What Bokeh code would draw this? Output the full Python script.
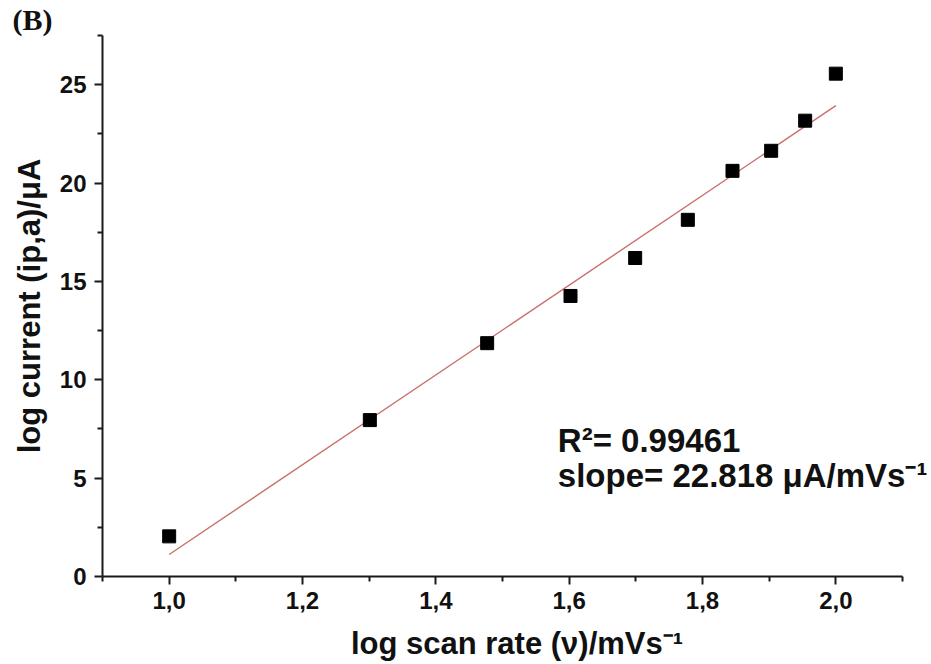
from bokeh.plotting import figure
from bokeh.models import Range1d, FixedTicker, CustomJSTickFormatter, Label, Title
from bokeh.embed import file_html
from bokeh.resources import INLINE

# ---- data ----
log_scan_rate = [1.0, 1.301, 1.477, 1.602, 1.699, 1.778, 1.845, 1.903, 1.954, 2.0]
log_current = [2.04, 7.95, 11.86, 14.26, 16.19, 18.13, 20.62, 21.64, 23.17, 25.56]

fit_slope = 22.818
fit_intercept = -21.70
r_squared = "0.99461"

x_major_ticks = [1.0, 1.2, 1.4, 1.6, 1.8, 2.0]
x_minor_ticks = [0.9, 1.1, 1.3, 1.5, 1.7, 1.9, 2.1]
y_major_ticks = [0, 5, 10, 15, 20, 25]
y_minor_ticks = [2.5, 7.5, 12.5, 17.5, 22.5, 27.5]

fit_x = [min(log_scan_rate), max(log_scan_rate)]
fit_y = [fit_slope * v + fit_intercept for v in fit_x]

# axis drawn from 0.9 to 2.1; the plotting area continues a little to the
# right so that the annotation text (as in the reference) is not cut off
x_axis_start, x_axis_end = 0.9, 2.1
frame_px = 931 - 102
x_view_end = x_axis_start + frame_px * (x_axis_end - x_axis_start) / 800.0

p = figure(width=931, height=664,
           x_range=Range1d(x_axis_start, x_view_end), y_range=Range1d(0, 27.5),
           output_backend="svg", toolbar_location=None,
           min_border_left=102, min_border_right=0,
           min_border_top=35, min_border_bottom=88)

p.title = Title(text="(B)", align="left", offset=-90, standoff=0,
                text_font="Liberation Serif", text_font_style="bold",
                text_font_size="30px", text_color="#111111")

p.outline_line_color = None
p.xgrid.visible = False
p.ygrid.visible = False
p.background_fill_color = "white"
p.border_fill_color = "white"

p.line(fit_x, fit_y, line_color="#c8706c", line_width=1.4)
p.scatter(log_scan_rate, log_current, marker="square", size=13,
          fill_color="black", line_color="black")

p.xaxis.ticker = FixedTicker(ticks=x_major_ticks, minor_ticks=x_minor_ticks)
p.yaxis.ticker = FixedTicker(ticks=y_major_ticks, minor_ticks=y_minor_ticks)
p.xaxis.formatter = CustomJSTickFormatter(code="return tick.toFixed(1).replace('.', ',');")
p.xaxis.bounds = (x_axis_start, x_axis_end)

for ax in (p.xaxis, p.yaxis):
    ax.axis_line_width = 2
    ax.axis_line_color = "#1a1a1a"
    ax.major_tick_line_width = 2
    ax.minor_tick_line_width = 2
    ax.major_tick_line_color = "#1a1a1a"
    ax.minor_tick_line_color = "#1a1a1a"
    ax.major_tick_in = 0
    ax.major_tick_out = 8
    ax.minor_tick_in = 0
    ax.minor_tick_out = 5
    ax.major_label_text_font = "Liberation Sans"
    ax.major_label_text_font_style = "bold"
    ax.major_label_text_font_size = "24px"
    ax.major_label_text_color = "#111111"
    ax.axis_label_text_font = "Liberation Sans"
    ax.axis_label_text_font_style = "bold"
    ax.axis_label_text_font_size = "31px"
    ax.axis_label_text_color = "#111111"

p.xaxis.axis_label = "log scan rate (\u03bd)/mVs\u207b\u00b9"
p.yaxis.axis_label = "log current (ip,a)/\u03bcA"
p.xaxis.major_label_standoff = 7
p.xaxis.axis_label_standoff = 14
p.yaxis.major_label_standoff = 8
p.yaxis.axis_label_standoff = 10

p.add_layout(Label(x=1.583, y=6.9, text="R\u00b2= " + r_squared,
                   text_font="Liberation Sans", text_font_style="bold",
                   text_font_size="33px", text_baseline="middle",
                   text_color="#111111"))
p.add_layout(Label(x=1.583, y=5.15,
                   text="slope= " + f"{fit_slope:.3f}" + " \u03bcA/mVs\u207b\u00b9",
                   text_font="Liberation Sans", text_font_style="bold",
                   text_font_size="33px", text_baseline="middle",
                   text_color="#111111"))

open("out.html", "w").write(file_html(p, INLINE))
